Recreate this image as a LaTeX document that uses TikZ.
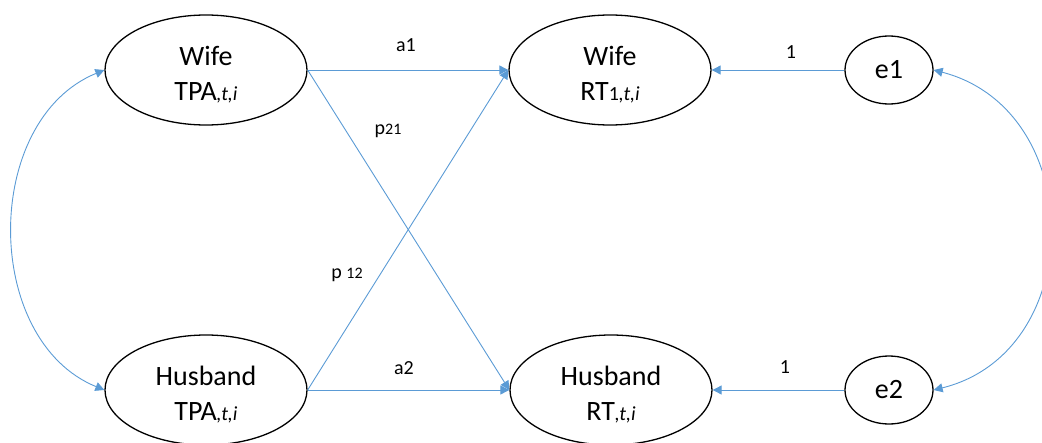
\documentclass[tikz,border=0pt]{standalone}
\usepackage{fontspec}
\setmainfont{Carlito}
\usetikzlibrary{shapes.geometric,arrows.meta}
\definecolor{linkblue}{HTML}{5B9BD5}
% small italic index set on the baseline
\newcommand\tidx[1]{{\fontsize{20}{24}\selectfont\itshape #1}}
\newcommand\tnum[1]{{\fontsize{20}{24}\selectfont #1}}
\newcommand\lnum[1]{{\fontsize{16}{20}\selectfont #1}}
% a tall invisible strut that lowers the two-line text a little
\newcommand\topstrut{\rule{0pt}{28pt}}
\begin{document}
\begin{tikzpicture}[x=1pt,y=-1pt,
  latent/.style={draw=black,line width=1.3pt,ellipse,minimum width=202pt,
    minimum height=110pt,inner sep=0pt,align=center,
    font=\fontsize{28}{35}\selectfont},
  errnode/.style={draw=black,line width=1.3pt,ellipse,minimum width=88pt,
    minimum height=68pt,inner sep=0pt,font=\fontsize{28}{34}\selectfont},
  link/.style={draw=linkblue,line width=0.9pt,-{Triangle[length=9pt,width=9pt]}},
  covar/.style={draw=linkblue,line width=0.9pt,
    {Triangle[length=9pt,width=9pt]}-{Triangle[length=9pt,width=9pt]}},
  lbl/.style={font=\fontsize{20}{24}\selectfont,inner sep=0pt}
]
\useasboundingbox (0,0) rectangle (1042,442);

% latent variables
\node[latent] (wtpa) at (206,70)  {\topstrut Wife\\TPA\tidx{,t,i}};
\node[latent] (wrt)  at (610,70)  {\topstrut Wife\\RT\tnum{1}\tidx{,t,i}};
\node[latent] (htpa) at (206,390) {\topstrut Husband\\TPA\tidx{,t,i}};
\node[latent] (hrt)  at (611,390) {\topstrut Husband\\RT\tidx{,t,i}};

% error terms
\node[errnode] (e1) at (889,70)  {e1};
\node[errnode] (e2) at (889,390) {e2};

% regression paths
\draw[link] (wtpa.east) -- (wrt.west);
\draw[link] (htpa.east) -- (hrt.west);
\draw[link] (wtpa.east) -- (hrt.west);
\draw[link] (htpa.east) -- (wrt.west);
\draw[link] (e1.west) -- (wrt.east);
\draw[link] (e2.west) -- (hrt.east);

% covariances
\draw[covar] (wtpa.west) .. controls (-18,120) and (-18,340) .. (htpa.west);
\draw[covar] (e1.east) .. controls (1088,110) and (1088,352) .. (e2.east);

% path labels
\node[lbl] (la1)  at (406,45)  {a1};
\node[lbl] (lp21) at (388,131) {p\lnum{21}};
\node[lbl] (lp12) at (347,275) {p \lnum{12}};
\node[lbl] (la2)  at (404,368) {a2};
\node[lbl] (l1a)  at (791,52)  {1};
\node[lbl] (l1b)  at (785,367) {1};
\end{tikzpicture}
\end{document}
